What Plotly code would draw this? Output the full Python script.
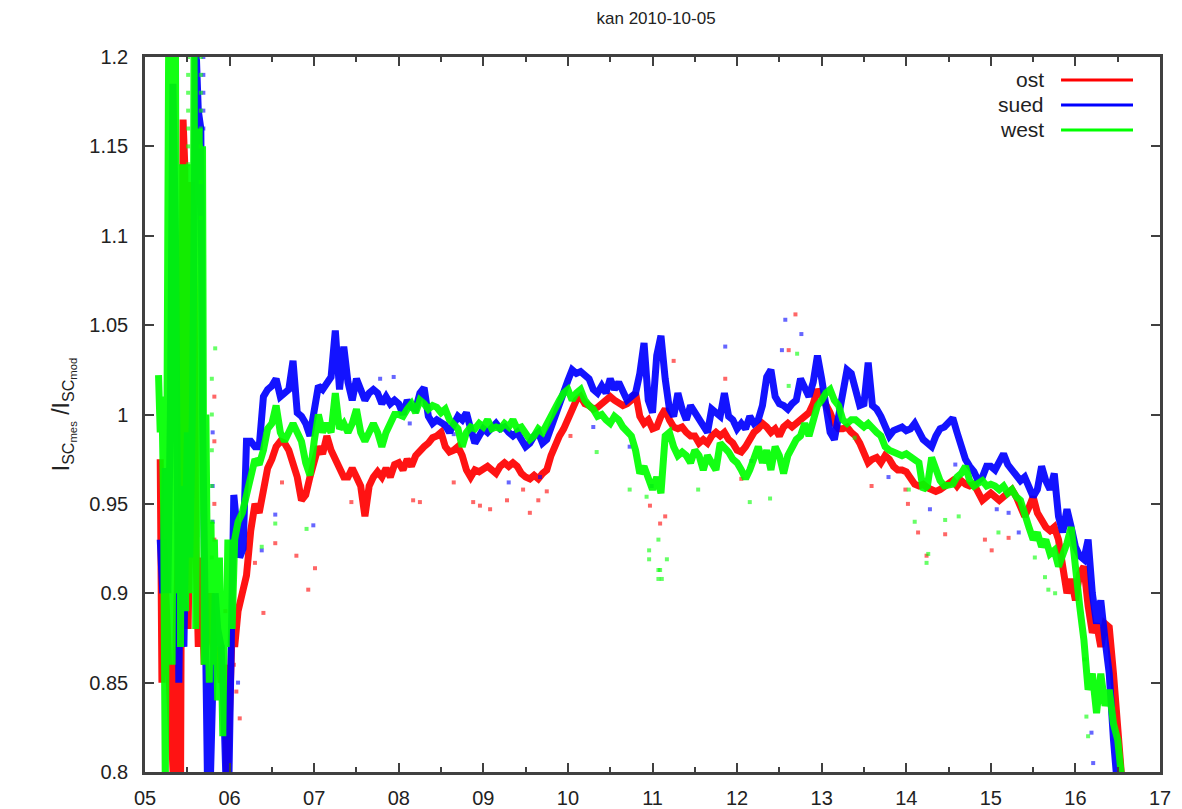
import plotly.graph_objects as go

# ---------------- data (hours of day, ratio I_SC_mes / I_SC_mod) ----------------
ost_t = [5.18, 5.2, 5.22, 5.25, 5.28, 5.31, 5.34, 5.37, 5.4, 5.42, 5.45, 5.47, 5.49, 5.51, 5.53, 5.55, 5.58, 5.6, 5.63,
         5.66, 5.7, 5.74, 5.78, 5.82, 5.86, 5.9, 5.94, 5.97, 6.0, 6.03, 6.06, 6.1, 6.15, 6.2, 6.25, 6.3, 6.35, 6.4,
         6.45, 6.5, 6.55, 6.6, 6.65, 6.7, 6.75, 6.8, 6.85, 6.9, 6.95, 7.0, 7.05, 7.1, 7.15, 7.2, 7.25, 7.3, 7.35, 7.4,
         7.45, 7.5, 7.55, 7.6, 7.65, 7.7, 7.75, 7.8, 7.85, 7.9, 7.95, 8.0, 8.05, 8.1, 8.15, 8.2, 8.25, 8.3, 8.35, 8.4,
         8.45, 8.5, 8.55, 8.6, 8.65, 8.7, 8.75, 8.8, 8.85, 8.9, 8.95, 9.0, 9.05, 9.1, 9.15, 9.2, 9.25, 9.3, 9.35, 9.4,
         9.45, 9.5, 9.55, 9.6, 9.65, 9.7, 9.75, 9.8, 9.85, 9.9, 9.95, 10.0, 10.05, 10.1, 10.15, 10.2, 10.25, 10.3,
         10.35, 10.4, 10.45, 10.5, 10.55, 10.6, 10.65, 10.7, 10.75, 10.8, 10.85, 10.9, 10.95, 11.0, 11.05, 11.1, 11.15,
         11.2, 11.25, 11.3, 11.35, 11.4, 11.45, 11.5, 11.55, 11.6, 11.65, 11.7, 11.75, 11.8, 11.85, 11.9, 11.95, 12.0,
         12.05, 12.1, 12.15, 12.2, 12.25, 12.3, 12.35, 12.4, 12.45, 12.5, 12.55, 12.6, 12.65, 12.7, 12.75, 12.8, 12.85,
         12.9, 12.95, 13.0, 13.05, 13.1, 13.15, 13.2, 13.25, 13.3, 13.35, 13.4, 13.45, 13.5, 13.55, 13.6, 13.65, 13.7,
         13.75, 13.8, 13.85, 13.9, 13.95, 14.0, 14.05, 14.1, 14.15, 14.2, 14.25, 14.3, 14.35, 14.4, 14.45, 14.5, 14.55,
         14.6, 14.65, 14.7, 14.75, 14.8, 14.85, 14.9, 14.95, 15.0, 15.05, 15.1, 15.15, 15.2, 15.25, 15.3, 15.35, 15.4,
         15.45, 15.5, 15.55, 15.6, 15.65, 15.7, 15.75, 15.8, 15.85, 15.9, 15.95, 16.0, 16.05, 16.1, 16.15, 16.2, 16.25,
         16.3, 16.35, 16.4, 16.45, 16.5, 16.55]
ost_v = [0.975, 0.85, 0.93, 0.90, 0.86, 0.82, 0.79, 0.88, 0.94, 0.79, 1.165, 1.14, 0.95, 0.88, 0.945, 1.13, 1.07, 0.93,
         0.87, 0.92, 0.86, 0.88, 0.90, 0.86, 0.87, 0.85, 0.86, 0.79, 0.83, 0.88, 0.87, 0.89, 0.90, 0.91, 0.935, 0.95,
         0.945, 0.96,
         0.970, 0.975, 0.982, 0.985, 0.984, 0.980, 0.972, 0.965, 0.952, 0.955, 0.965, 0.975, 0.982, 0.978, 0.988,
         0.980, 0.975, 0.970, 0.965, 0.965, 0.970, 0.965, 0.960, 0.943, 0.960, 0.965, 0.968, 0.965, 0.970, 0.965,
         0.972, 0.973, 0.969, 0.975, 0.971, 0.977, 0.980, 0.982, 0.984, 0.987, 0.988, 0.990, 0.982, 0.979, 0.980,
         0.982, 0.977, 0.969, 0.965, 0.969, 0.968, 0.969, 0.971, 0.969, 0.967, 0.971, 0.973, 0.971, 0.973, 0.971,
         0.967, 0.965, 0.964, 0.966, 0.964, 0.967, 0.969, 0.977, 0.984, 0.988, 0.992, 0.997, 1.003, 1.008, 1.010,
         1.006, 1.005, 1.003, 1.004, 1.006, 1.008, 1.010, 1.008, 1.006, 1.005, 1.006, 1.008, 1.012, 0.999, 0.995,
         0.997, 0.992, 0.993, 0.999, 1.003, 0.997, 0.993, 0.992, 0.993, 0.990, 0.988, 0.988, 0.984, 0.986, 0.984,
         0.988, 0.990, 0.988, 0.990, 0.986, 0.984, 0.980, 0.979, 0.982, 0.986, 0.990, 0.992, 0.995, 0.993, 0.990,
         0.992, 0.988, 0.993, 0.995, 0.993, 0.995, 0.997, 0.999, 1.001, 1.006, 1.014, 1.010, 1.006, 1.001, 0.995,
         0.992, 0.992, 0.993, 0.990, 0.988, 0.984, 0.977, 0.973, 0.975, 0.976, 0.973, 0.977, 0.975, 0.971, 0.969,
         0.969, 0.968, 0.965, 0.961, 0.960, 0.961, 0.959, 0.958, 0.957, 0.958, 0.960, 0.961, 0.963, 0.960, 0.963,
         0.961, 0.960, 0.961, 0.956, 0.952, 0.954, 0.956, 0.954, 0.952, 0.954, 0.956, 0.958, 0.954, 0.948, 0.943,
         0.948, 0.954, 0.945, 0.941, 0.937, 0.935, 0.937, 0.930, 0.915, 0.900, 0.908, 0.896, 0.911, 0.915, 0.893,
         0.878, 0.883, 0.870, 0.883, 0.881, 0.855, 0.827, 0.795]

sued_t = [5.18, 5.21, 5.24, 5.27, 5.3, 5.33, 5.36, 5.38, 5.4, 5.43, 5.46, 5.5, 5.53, 5.56, 5.6, 5.63, 5.66, 5.68, 5.71,
          5.74, 5.77, 5.8, 5.83, 5.86, 5.9, 5.93, 5.96, 5.99, 6.02, 6.05, 6.08, 6.12, 6.16,
          6.2, 6.25, 6.3, 6.35, 6.4, 6.45, 6.5, 6.55, 6.6, 6.65, 6.7, 6.75, 6.8, 6.85, 6.9, 6.95, 7.0, 7.05, 7.1, 7.15,
          7.2, 7.25, 7.3, 7.35, 7.4, 7.45, 7.5, 7.55, 7.6, 7.65, 7.7, 7.75, 7.8, 7.85, 7.9, 7.95, 8.0, 8.05, 8.1, 8.15,
          8.2, 8.25, 8.3, 8.35, 8.4, 8.45, 8.5, 8.55, 8.6, 8.65, 8.7, 8.75, 8.8, 8.85, 8.9, 8.95, 9.0, 9.05, 9.1, 9.15,
          9.2, 9.25, 9.3, 9.35, 9.4, 9.45, 9.5, 9.55, 9.6, 9.65, 9.7, 9.75, 9.8, 9.85, 9.9, 9.95, 10.0, 10.05, 10.1,
          10.15, 10.2, 10.25, 10.3, 10.35, 10.4, 10.45, 10.5, 10.55, 10.6, 10.65, 10.7, 10.75, 10.8, 10.85, 10.9,
          10.95, 11.0, 11.05, 11.1, 11.15, 11.2, 11.25, 11.3, 11.35, 11.4, 11.45, 11.5, 11.55, 11.6, 11.65, 11.7,
          11.75, 11.8, 11.85, 11.9, 11.95, 12.0, 12.05, 12.1, 12.15, 12.2, 12.25, 12.3, 12.35, 12.4, 12.45, 12.5,
          12.55, 12.6, 12.65, 12.7, 12.75, 12.8, 12.85, 12.9, 12.95, 13.0, 13.05, 13.1, 13.15, 13.2, 13.25, 13.3,
          13.35, 13.4, 13.45, 13.5, 13.55, 13.6, 13.65, 13.7, 13.75, 13.8, 13.85, 13.9, 13.95, 14.0, 14.05, 14.1,
          14.15, 14.2, 14.25, 14.3, 14.35, 14.4, 14.45, 14.5, 14.55, 14.6, 14.65, 14.7, 14.75, 14.8, 14.85, 14.9,
          14.95, 15.0, 15.05, 15.1, 15.15, 15.2, 15.25, 15.3, 15.35, 15.4, 15.45, 15.5, 15.55, 15.6, 15.65, 15.7,
          15.75, 15.8, 15.85, 15.9, 15.95, 16.0, 16.05, 16.1, 16.15, 16.2, 16.25, 16.3, 16.35, 16.4, 16.45, 16.5]
sued_v = [0.93, 0.90, 0.97, 0.90, 1.00, 1.185, 1.10, 0.95, 0.85, 0.96, 0.87, 0.99, 0.92, 1.00, 1.21, 1.17, 1.16, 1.00,
          0.85, 0.79, 0.79, 0.86, 0.90, 0.88, 0.87, 0.84, 0.79, 0.79, 0.90, 0.955, 0.94, 0.92, 0.925,
          0.985, 0.985, 0.982, 0.982, 1.010, 1.014, 1.016, 1.020, 1.010, 1.012, 1.014, 1.030, 1.001, 0.999, 0.995,
          0.988, 1.005, 1.016, 1.014, 1.018, 1.021, 1.047, 1.014, 1.038, 1.018, 1.008, 1.020, 1.014, 1.008, 1.012,
          1.014, 1.012, 1.006, 1.010, 1.006, 1.008, 1.006, 1.000, 1.008, 1.004, 1.003, 1.012, 1.015, 0.999, 0.995,
          0.997, 0.996, 0.994, 0.990, 0.995, 0.999, 0.997, 1.001, 0.992, 0.984, 0.988, 0.992, 0.990, 0.993, 0.995,
          0.992, 0.993, 0.990, 0.988, 0.990, 0.986, 0.982, 0.984, 0.988, 0.990, 0.984, 0.986, 0.993, 1.001, 1.008,
          1.014, 1.019, 1.025, 1.023, 1.024, 1.022, 1.020, 1.014, 1.012, 1.016, 1.012, 1.020, 1.014, 1.018, 1.012,
          1.008, 1.010, 1.012, 1.023, 1.040, 1.008, 1.001, 1.033, 1.044, 1.020, 1.003, 0.999, 1.012, 1.003, 0.997,
          1.005, 1.001, 0.997, 0.993, 0.990, 1.003, 1.001, 0.999, 1.012, 0.999, 0.997, 0.992, 0.995, 0.992, 0.999,
          0.995, 0.997, 1.005, 1.021, 1.025, 1.010, 1.006, 1.005, 1.003, 1.006, 1.008, 1.020, 1.014, 1.010, 1.018,
          1.033, 1.020, 1.003, 0.990, 0.986, 0.999, 1.016, 1.025, 1.023, 1.014, 1.005, 1.006, 1.029, 1.005, 1.003,
          0.999, 0.992, 0.988, 0.991, 0.992, 0.993, 0.991, 0.992, 0.995, 0.990, 0.986, 0.984, 0.982, 0.988, 0.992,
          0.993, 0.996, 0.998, 0.990, 0.982, 0.975, 0.971, 0.968, 0.963, 0.965, 0.971, 0.971, 0.969, 0.973, 0.978,
          0.972, 0.969, 0.965, 0.963, 0.965, 0.960, 0.954, 0.958, 0.971, 0.963, 0.958, 0.967, 0.943, 0.934, 0.947,
          0.937, 0.926, 0.921, 0.919, 0.930, 0.900, 0.883, 0.896, 0.874, 0.855, 0.818, 0.790]

west_t = [5.16, 5.18, 5.2, 5.22, 5.24, 5.26, 5.28, 5.3, 5.32, 5.34, 5.36, 5.38, 5.4, 5.42, 5.44, 5.46, 5.48, 5.5, 5.52,
          5.54, 5.56, 5.58, 5.6, 5.62, 5.64, 5.66, 5.68, 5.7, 5.72, 5.74, 5.76, 5.78, 5.8, 5.82, 5.84, 5.86, 5.88, 5.9,
          5.92, 5.94, 5.96, 5.98, 6.0, 6.03, 6.06, 6.1, 6.15,
          6.2, 6.25, 6.3, 6.35, 6.4, 6.45, 6.5, 6.55, 6.6, 6.65, 6.7, 6.75, 6.8, 6.85, 6.9, 6.95, 7.0, 7.05, 7.1, 7.15,
          7.2, 7.25, 7.3, 7.35, 7.4, 7.45, 7.5, 7.55, 7.6, 7.65, 7.7, 7.75, 7.8, 7.85, 7.9, 7.95, 8.0, 8.05, 8.1, 8.15,
          8.2, 8.25, 8.3, 8.35, 8.4, 8.45, 8.5, 8.55, 8.6, 8.65, 8.7, 8.75, 8.8, 8.85, 8.9, 8.95, 9.0, 9.05, 9.1, 9.15,
          9.2, 9.25, 9.3, 9.35, 9.4, 9.45, 9.5, 9.55, 9.6, 9.65, 9.7, 9.75, 9.8, 9.85, 9.9, 9.95, 10.0, 10.05, 10.1,
          10.15, 10.2, 10.25, 10.3, 10.35, 10.4, 10.45, 10.5, 10.55, 10.6, 10.65, 10.7, 10.75, 10.8, 10.85, 10.9,
          10.95, 11.0, 11.05, 11.1, 11.15, 11.2, 11.25, 11.3, 11.35, 11.4, 11.45, 11.5, 11.55, 11.6, 11.65, 11.7,
          11.75, 11.8, 11.85, 11.9, 11.95, 12.0, 12.05, 12.1, 12.15, 12.2, 12.25, 12.3, 12.35, 12.4, 12.45, 12.5,
          12.55, 12.6, 12.65, 12.7, 12.75, 12.8, 12.85, 12.9, 12.95, 13.0, 13.05, 13.1, 13.15, 13.2, 13.25, 13.3,
          13.35, 13.4, 13.45, 13.5, 13.55, 13.6, 13.65, 13.7, 13.75, 13.8, 13.85, 13.9, 13.95, 14.0, 14.05, 14.1,
          14.15, 14.2, 14.25, 14.3, 14.35, 14.4, 14.45, 14.5, 14.55, 14.6, 14.65, 14.7, 14.75, 14.8, 14.85, 14.9,
          14.95, 15.0, 15.05, 15.1, 15.15, 15.2, 15.25, 15.3, 15.35, 15.4, 15.45, 15.5, 15.55, 15.6, 15.65, 15.7,
          15.75, 15.8, 15.85, 15.9, 15.95, 16.0, 16.05, 16.1, 16.15, 16.2, 16.25, 16.3, 16.35, 16.4, 16.45, 16.5, 16.55]
west_v = [1.022, 0.99, 1.01, 0.95, 0.79, 1.00, 1.21, 1.10, 0.86, 1.02, 1.21, 0.90, 1.10, 0.87, 1.14, 0.98, 0.89, 1.14,
          0.93, 1.05, 0.90, 1.21, 0.88, 1.00, 1.16, 0.95, 1.15, 0.86, 1.00, 0.90, 0.85, 0.94, 0.86, 0.93, 0.87, 0.84,
          0.92, 0.86, 0.82, 0.90, 0.87, 0.93, 0.92, 0.88, 0.93, 0.94, 0.945,
          0.955, 0.965, 0.975, 0.972, 0.980, 0.992, 0.995, 1.005, 0.990, 0.985, 0.990, 0.995, 0.990, 0.985, 0.973,
          0.966, 0.985, 1.000, 0.990, 0.995, 0.990, 1.012, 0.992, 0.995, 0.990, 0.995, 1.003, 0.990, 0.985, 0.990,
          0.995, 0.990, 0.982, 0.990, 0.995, 1.000, 1.000, 0.999, 1.003, 1.006, 1.001, 1.008, 1.006, 1.003, 1.005,
          1.004, 1.001, 1.003, 0.997, 0.995, 0.992, 0.982, 0.990, 0.993, 0.992, 0.995, 0.993, 0.997, 0.992, 0.993,
          0.992, 0.995, 0.993, 0.997, 0.992, 0.993, 0.990, 0.986, 0.988, 0.992, 0.990, 0.995, 0.999, 1.003, 1.008,
          1.012, 1.014, 1.008, 1.012, 1.014, 1.008, 1.005, 1.003, 0.999, 1.000, 0.997, 0.995, 0.999, 0.997, 0.993,
          0.990, 0.988, 0.980, 0.967, 0.971, 0.965, 0.958, 0.965, 0.956, 0.988, 0.990, 0.982, 0.977, 0.979, 0.977,
          0.973, 0.980, 0.977, 0.969, 0.977, 0.973, 0.969, 0.984, 0.982, 0.979, 0.975, 0.973, 0.969, 0.964, 0.969,
          0.975, 0.982, 0.973, 0.980, 0.969, 0.982, 0.977, 0.967, 0.977, 0.982, 0.986, 0.988, 0.995, 0.988, 0.995,
          1.005, 1.008, 1.012, 1.014, 1.008, 1.005, 0.997, 0.995, 0.997, 0.997, 0.995, 0.993, 0.995, 0.992, 0.990,
          0.988, 0.982, 0.980, 0.979, 0.977, 0.977, 0.978, 0.976, 0.975, 0.973, 0.958, 0.960, 0.976, 0.969, 0.963,
          0.960, 0.961, 0.961, 0.965, 0.967, 0.971, 0.963, 0.960, 0.961, 0.963, 0.960, 0.961, 0.960, 0.958, 0.960,
          0.956, 0.958, 0.954, 0.952, 0.943, 0.937, 0.930, 0.934, 0.926, 0.930, 0.922, 0.924, 0.915, 0.921, 0.928,
          0.937, 0.911, 0.893, 0.874, 0.846, 0.855, 0.833, 0.855, 0.837, 0.846, 0.827, 0.818, 0.795]

# isolated (sparse) samples
ost_pt_t = [6.3, 6.4, 6.54, 6.62, 6.79, 6.93, 7.01, 7.44, 8.17, 8.25, 8.65, 8.88, 8.96, 9.08, 9.28, 9.47, 9.55, 9.65,
            9.75, 10.03, 10.97, 11.09, 11.15, 11.25, 11.86, 12.05, 12.61, 12.69, 13.59, 13.99, 14.02, 14.14, 14.24,
            14.46, 14.93, 15.01, 15.21, 5.57, 5.57, 5.57, 5.57, 5.82, 5.82, 5.82, 5.82, 5.95, 6.05, 6.08, 6.12]
ost_pt_v = [0.917, 0.889, 0.928, 0.962, 0.921, 0.902, 0.914, 0.951, 0.952, 0.951, 0.962, 0.951, 0.949, 0.947, 0.952,
            0.958, 0.945, 0.952, 0.957, 0.988, 0.949, 0.939, 0.943, 1.030, 1.020, 0.964, 1.036, 1.056, 0.960, 0.958,
            0.950, 0.934, 0.921, 0.933, 0.930, 0.924, 0.931, 1.125, 1.105, 1.09, 1.075, 1.01, 0.985, 0.95, 0.93, 0.89,
            0.86, 0.845, 0.83]
sued_pt_t = [6.38, 6.54, 6.99, 7.78, 7.94, 8.13, 8.65, 9.3, 9.67, 10.3, 10.73, 10.99, 11.86, 12.17, 12.53, 12.57,
             12.76, 13.79, 14.28, 14.58, 15.07, 15.21, 15.33, 16.19, 16.21, 5.69, 5.69, 5.69, 5.69, 5.69, 5.8, 5.8,
             5.8, 5.92, 6.1]
sued_pt_v = [0.924, 0.944, 0.938, 1.020, 1.021, 0.995, 0.989, 0.962, 0.965, 0.993, 0.982, 0.960, 1.038, 0.974, 1.036,
             1.053, 1.045, 0.965, 0.947, 0.972, 0.947, 0.945, 0.934, 0.822, 0.805, 1.2, 1.19, 1.18, 1.17, 1.16, 0.99,
             0.96, 0.94, 0.87, 0.85]
west_pt_t = [5.83, 6.38, 6.54, 6.91, 10.34, 10.73, 10.93, 10.96, 10.96, 11.07, 11.07, 11.07, 11.09, 11.11, 11.17,
             11.54, 12.15, 12.39, 12.61, 12.71, 13.39, 14.03, 14.1, 14.24, 14.26, 14.46, 14.62, 15.09, 15.52, 15.64,
             15.68, 15.76, 16.11, 16.13, 16.15, 5.51, 5.51, 5.51, 5.51, 5.51, 5.51, 5.51, 5.66, 5.66, 5.66, 5.66, 5.66,
             5.66, 5.66, 5.66, 5.79, 5.79, 5.79, 5.79, 5.79, 5.79]
west_pt_v = [1.037, 0.926, 0.939, 0.936, 0.979, 0.958, 0.954, 0.924, 0.919, 0.908, 0.913, 0.930, 0.913, 0.908, 0.919,
             0.958, 0.951, 0.953, 1.016, 1.034, 0.987, 0.958, 0.940, 0.917, 0.922, 0.941, 0.943, 0.934, 0.920, 0.909,
             0.902, 0.900, 0.863, 0.831, 0.820, 1.2, 1.19, 1.18, 1.17, 1.16, 1.15, 1.14, 1.2, 1.19, 1.18, 1.17, 1.16,
             1.15, 1.13, 1.11, 1.02, 1.0, 0.98, 0.96, 0.94, 0.92]

series_names = ["ost", "sued", "west"]
series_colors = ["#ff0000", "#0000ff", "#00ff00"]
x_tickvals = [5, 6, 7, 8, 9, 10, 11, 12, 13, 14, 15, 16, 17]
x_ticktext = ["05", "06", "07", "08", "09", "10", "11", "12", "13", "14", "15", "16", "17"]
y_tickvals = [0.8, 0.85, 0.9, 0.95, 1.0, 1.05, 1.1, 1.15, 1.2]
y_ticktext = ["0.8", "0.85", "0.9", "0.95", "1", "1.05", "1.1", "1.15", "1.2"]
title_text = "kan 2010-10-05"

# ---------------- figure ----------------
FONT = "Liberation Sans, Arial, sans-serif"
TXT = "#222222"
fig = go.Figure()

lines = [(ost_t, ost_v), (sued_t, sued_v), (west_t, west_v)]
points = [(ost_pt_t, ost_pt_v), (sued_pt_t, sued_pt_v), (west_pt_t, west_pt_v)]
for (t, v), (pt, pv), name, col in zip(lines, points, series_names, series_colors):
    fig.add_trace(go.Scatter(x=pt, y=pv, mode="markers", showlegend=False, hoverinfo="skip",
                             marker=dict(symbol="square", size=4, color=col, opacity=0.6, line=dict(width=0))))
    fig.add_trace(go.Scatter(x=t, y=v, mode="lines", name=name, showlegend=False,
                             line=dict(color=col, width=7), opacity=0.92))

# legend, gnuplot style (text right-aligned, sample line to the right)
leg_y = [0.968, 0.933, 0.898]
for name, col, yy in zip(series_names, series_colors, leg_y):
    fig.add_annotation(xref="paper", yref="paper", x=0.888, y=yy, text=name, showarrow=False,
                       xanchor="right", yanchor="middle", font=dict(family=FONT, size=21, color=TXT))
    fig.add_shape(type="line", xref="paper", yref="paper", x0=0.9025, x1=0.9734, y0=yy, y1=yy,
                  line=dict(color=col, width=3))

axis_common = dict(showgrid=False, zeroline=False, showline=True, linecolor="#404040", linewidth=2.5,
                   mirror="allticks", ticks="inside", tickcolor="#404040", tickwidth=2, ticklen=9,
                   automargin=False, tickfont=dict(family=FONT, size=20, color=TXT))
fig.update_xaxes(range=[5, 17], tickvals=x_tickvals, ticktext=x_ticktext, ticklabelstandoff=6,
                 minor=dict(dtick=0.5, ticks="inside", ticklen=5, tickwidth=2, tickcolor="#404040"),
                 **axis_common)
fig.update_yaxes(range=[0.8, 1.2], tickvals=y_tickvals, ticktext=y_ticktext, ticklabelstandoff=10,
                 title=dict(text="I<sub>SC<sub>mes</sub></sub> /I<sub>SC<sub>mod</sub></sub>",
                            font=dict(family=FONT, size=23, color=TXT), standoff=14),
                 **axis_common)

# the page adds an 8 px body margin, so the figure is 8 px smaller and margins compensate
fig.update_layout(
    width=1174, height=801,
    margin=dict(l=137, r=22, t=49, b=37),
    paper_bgcolor="white", plot_bgcolor="white",
    title=dict(text=title_text, x=0.552, xanchor="center", y=0.995, yanchor="top",
               font=dict(family=FONT, size=17, color=TXT)),
    showlegend=False,
)

fig.write_html("out.html")
